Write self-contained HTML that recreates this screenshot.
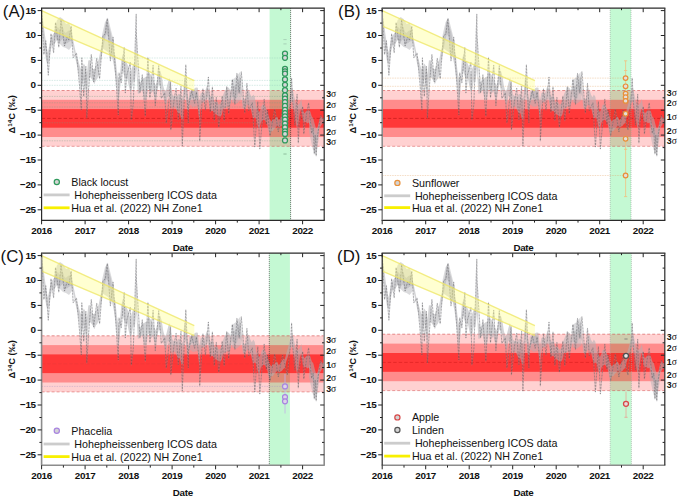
<!DOCTYPE html>
<html><head><meta charset="utf-8"><style>
html,body{margin:0;padding:0;background:#fff;width:685px;height:498px;overflow:hidden}
svg{display:block}
text{font-family:"Liberation Sans", sans-serif;fill:#111}
.t{font-size:9.9px;font-weight:bold;letter-spacing:-0.3px}
.yl{font-size:8.6px;font-weight:bold}
.pl{font-size:16.8px}
.sg{font-size:8.8px;font-weight:bold}
.lg{font-size:10.7px}
</style></head><body>
<svg width="685" height="498" viewBox="0 0 685 498">
<rect width="685" height="498" fill="#fff"/>
<clipPath id="cA"><rect x="41.6" y="8.2" width="282.59999999999997" height="212.10000000000002"/></clipPath>
<g clip-path="url(#cA)">
<rect x="269.6" y="8.2" width="21.0" height="212.10000000000002" fill="#c4f9d3"/>
<rect x="41.6" y="90.5" width="282.59999999999997" height="55.8" fill="#ff0000" fill-opacity="0.18"/>
<rect x="41.6" y="99.8" width="282.59999999999997" height="37.2" fill="#ff0000" fill-opacity="0.33"/>
<rect x="41.6" y="109.1" width="282.59999999999997" height="18.6" fill="#ff0000" fill-opacity="0.6"/>
<line x1="41.6" x2="324.2" y1="90.5" y2="90.5" stroke="#d04040" stroke-width="0.8" stroke-dasharray="3,2" stroke-opacity="0.7"/>
<line x1="41.6" x2="324.2" y1="146.3" y2="146.3" stroke="#d04040" stroke-width="0.8" stroke-dasharray="3,2" stroke-opacity="0.6"/>
<line x1="41.6" x2="324.2" y1="118.4" y2="118.4" stroke="#c01818" stroke-width="0.8" stroke-dasharray="3.5,2" stroke-opacity="0.85"/>
<line x1="41.6" x2="285" y1="58.0" y2="58.0" stroke="#90c8b8" stroke-width="0.8" stroke-dasharray="1.5,1" stroke-opacity="0.45"/>
<line x1="41.6" x2="285" y1="80.4" y2="80.4" stroke="#90c8b8" stroke-width="0.8" stroke-dasharray="1.5,1" stroke-opacity="0.45"/>
<line x1="41.6" x2="285" y1="85.3" y2="85.3" stroke="#90c8b8" stroke-width="0.8" stroke-dasharray="1.5,1" stroke-opacity="0.45"/>
<line x1="41.6" x2="285" y1="96.4" y2="96.4" stroke="#70a080" stroke-width="0.8" stroke-dasharray="1.5,1" stroke-opacity="0.45"/>
<line x1="41.6" x2="285" y1="102.8" y2="102.8" stroke="#70a080" stroke-width="0.8" stroke-dasharray="1.5,1" stroke-opacity="0.45"/>
<line x1="41.6" x2="285" y1="107" y2="107" stroke="#70a080" stroke-width="0.8" stroke-dasharray="1.5,1" stroke-opacity="0.45"/>
<line x1="41.6" x2="285" y1="122.8" y2="122.8" stroke="#70a080" stroke-width="0.8" stroke-dasharray="1.5,1" stroke-opacity="0.45"/>
<line x1="41.6" x2="285" y1="140.8" y2="140.8" stroke="#70a080" stroke-width="0.8" stroke-dasharray="1.5,1" stroke-opacity="0.45"/>
<polygon points="55.0,28.0 57.0,20.0 60.0,17.0 63.0,19.0 66.0,24.0 69.0,23.0 72.0,30.0 72.0,46.0 69.0,50.0 66.0,48.0 63.0,47.0 60.0,44.0 57.0,40.0 55.0,36.0" fill="#b0b0b4" fill-opacity="0.45" stroke="none"/>
<polygon points="102.0,35.0 105.0,22.0 108.0,18.0 111.0,30.0 114.0,42.0 114.0,58.0 111.0,56.0 108.0,52.0 105.0,50.0 102.0,48.0" fill="#b0b0b4" fill-opacity="0.45" stroke="none"/>
<polygon points="189.0,92.0 193.0,89.0 197.0,92.0 197.0,106.0 193.0,107.0 189.0,104.0" fill="#b0b0b4" fill-opacity="0.45" stroke="none"/>
<polygon points="232.0,80.0 236.0,77.0 240.0,72.0 241.0,100.0 236.0,104.0 232.0,102.0" fill="#b0b0b4" fill-opacity="0.45" stroke="none"/>
<polygon points="309.0,118.0 313.0,128.0 316.0,135.0 319.0,125.0 319.0,138.0 316.0,155.0 313.0,150.0 309.0,132.0" fill="#b0b0b4" fill-opacity="0.45" stroke="none"/>
<polygon points="41.8,14.5 43.3,22.3 44.8,34.1 46.3,44.5 47.8,52.4 49.3,45.7 50.8,38.3 52.3,35.3 53.8,33.2 55.3,30.7 56.8,27.2 58.3,27.5 59.8,30.2 61.3,26.9 62.8,27.1 64.3,31.8 65.8,33.0 67.3,31.4 68.8,30.5 70.3,30.8 71.8,33.4 73.3,40.6 74.8,47.7 76.3,55.3 77.8,58.8 79.3,64.3 80.8,68.9 82.3,67.4 83.8,63.4 85.3,66.3 86.8,74.6 88.3,60.4 89.8,59.9 91.3,65.7 92.8,69.1 94.3,69.1 95.8,66.2 97.3,63.6 98.8,58.9 100.3,51.2 101.8,45.1 103.3,37.8 104.8,28.2 106.3,19.7 107.8,23.2 109.3,28.1 110.8,32.9 112.3,43.2 113.8,51.5 115.3,55.6 116.8,70.2 118.3,79.2 119.8,76.7 121.3,60.2 122.8,54.0 124.3,61.7 125.8,61.1 127.3,64.1 128.8,67.8 130.3,73.9 131.8,68.0 133.3,64.6 134.8,62.3 136.3,27.4 137.8,78.1 139.3,80.5 140.8,82.8 142.3,78.2 143.8,78.2 145.3,77.0 146.8,76.6 148.3,71.5 149.8,73.5 151.3,75.3 152.8,78.3 154.3,82.2 155.8,85.6 157.3,79.7 158.8,71.5 160.3,70.8 161.8,75.9 163.3,85.9 164.8,91.3 166.3,89.2 167.8,83.0 169.3,77.9 170.8,84.5 172.3,94.3 173.8,96.0 175.3,95.5 176.8,97.1 178.3,93.8 179.8,94.4 181.3,99.2 182.8,96.6 184.3,77.9 185.8,79.3 187.3,92.9 188.8,100.3 190.3,93.5 191.8,91.3 193.3,90.7 194.8,87.9 196.3,87.4 197.8,87.8 199.3,100.7 200.8,93.0 202.3,92.4 203.8,94.5 205.3,90.8 206.8,85.9 208.3,89.2 209.8,95.1 211.3,97.3 212.8,95.5 214.3,100.7 215.8,102.6 217.3,101.8 218.8,104.6 220.3,104.0 221.8,100.8 223.3,94.4 224.8,91.1 226.3,89.0 227.8,87.0 229.3,88.4 230.8,91.6 232.3,86.4 233.8,86.3 235.3,85.6 236.8,84.1 238.3,79.9 239.8,76.3 241.3,82.6 242.8,98.2 244.3,99.3 245.8,98.0 247.3,91.0 248.8,89.6 250.3,94.6 251.8,97.3 253.3,94.6 254.8,96.9 256.3,106.9 257.8,109.9 259.3,111.9 260.8,108.7 262.3,104.3 263.8,105.3 265.3,106.6 266.8,109.8 268.3,114.8 269.8,119.3 271.3,121.5 272.8,119.3 274.3,119.5 275.8,117.1 277.3,117.0 278.8,120.2 280.3,118.4 281.8,116.1 283.3,114.0 284.8,114.6 286.3,108.3 287.8,103.4 289.3,97.2 290.8,93.4 292.3,87.8 293.8,94.2 295.3,101.5 296.8,106.1 298.3,104.6 299.8,102.9 301.3,98.8 302.8,110.1 304.3,113.3 305.8,111.4 307.3,110.5 308.8,110.5 310.3,111.5 311.8,116.5 313.3,118.2 314.8,124.3 316.3,129.7 317.8,126.5 319.3,120.0 320.8,116.8 322.3,118.2 323.8,118.0 323.8,123.3 322.3,123.8 320.8,126.0 319.3,129.3 317.8,136.3 316.3,144.4 314.8,140.4 313.3,136.5 311.8,133.9 310.3,125.4 308.8,122.5 307.3,123.5 305.8,121.6 304.3,122.5 302.8,119.6 301.3,107.5 299.8,113.7 298.3,124.2 296.8,128.4 295.3,119.3 293.8,108.9 292.3,101.5 290.8,103.0 289.3,106.8 287.8,112.1 286.3,116.3 284.8,123.0 283.3,124.1 281.8,125.9 280.3,126.8 278.8,127.0 277.3,125.4 275.8,127.5 274.3,128.8 272.8,131.3 271.3,130.9 269.8,134.5 268.3,130.1 266.8,122.7 265.3,120.7 263.8,119.7 262.3,120.4 260.8,122.8 259.3,129.6 257.8,126.6 256.3,119.1 254.8,117.4 253.3,118.6 251.8,113.8 250.3,106.9 248.8,105.6 247.3,104.4 245.8,107.2 244.3,109.1 242.8,107.6 241.3,96.3 239.8,92.5 238.3,92.1 236.8,98.3 235.3,98.3 233.8,97.6 232.3,96.3 230.8,103.0 229.3,106.5 227.8,106.0 226.3,107.0 224.8,107.8 223.3,108.0 221.8,114.8 220.3,116.8 218.8,116.3 217.3,115.0 215.8,114.5 214.3,112.2 212.8,111.0 211.3,111.2 209.8,108.3 208.3,101.1 206.8,96.5 205.3,101.1 203.8,102.7 202.3,101.8 200.8,105.0 199.3,121.1 197.8,107.1 196.3,99.5 194.8,97.8 193.3,98.6 191.8,97.8 190.3,100.4 188.8,109.6 187.3,110.4 185.8,97.8 184.3,92.6 182.8,119.2 181.3,118.9 179.8,113.2 178.3,113.2 176.8,110.6 175.3,107.5 173.8,105.7 172.3,108.4 170.8,105.9 169.3,96.3 167.8,95.7 166.3,105.8 164.8,102.3 163.3,97.4 161.8,90.8 160.3,86.2 158.8,84.3 157.3,91.0 155.8,97.4 154.3,96.8 152.8,91.2 151.3,93.2 149.8,90.2 148.3,88.8 146.8,96.6 145.3,101.3 143.8,97.4 142.3,90.7 140.8,91.0 139.3,93.6 137.8,93.8 136.3,68.2 134.8,82.2 133.3,80.2 131.8,89.1 130.3,92.1 128.8,86.3 127.3,78.5 125.8,79.0 124.3,76.5 122.8,70.7 121.3,75.5 119.8,91.0 118.3,101.7 116.8,88.3 115.3,75.8 113.8,65.3 112.3,57.9 110.8,49.0 109.3,40.4 107.8,36.3 106.3,34.1 104.8,39.3 103.3,47.8 101.8,55.9 100.3,63.6 98.8,74.7 97.3,78.8 95.8,80.5 94.3,84.2 92.8,80.7 91.3,78.6 89.8,76.7 88.3,80.4 86.8,99.2 85.3,87.4 83.8,79.1 82.3,85.2 80.8,93.4 79.3,76.7 77.8,68.9 76.3,62.7 74.8,55.3 73.3,48.0 71.8,41.6 70.3,41.0 68.8,42.0 67.3,43.3 65.8,43.6 64.3,43.8 62.8,39.1 61.3,40.3 59.8,42.0 58.3,40.4 56.8,40.2 55.3,42.8 53.8,45.4 52.3,43.7 50.8,50.2 49.3,60.7 47.8,64.2 46.3,60.7 44.8,51.4 43.3,39.2 41.8,23.0" fill="#b0b0b4" fill-opacity="0.55" stroke="none"/>
<path d="M41.8,12.0 L43.9,54.5 L45.8,40.7 L48.3,75.2 L51.0,33.7 L53.6,52.8 L55.5,22.5 L58.8,47.2 L61.0,19.8 L64.5,46.0 L67.0,37.0 L68.9,40.0 L71.2,26.1 L73.2,57.7 L76.5,53.1 L79.4,84.2 L81.3,110.0 L81.8,57.8 L83.7,96.4 L85.9,66.5 L86.8,118.0 L88.5,90.0 L91.3,54.5 L93.7,81.8 L96.7,58.2 L99.6,78.8 L102.9,35.8 L105.3,34.0 L107.3,18.4 L110.4,60.9 L113.1,37.1 L116.1,81.3 L118.3,115.0 L119.0,72.8 L121.3,82.6 L124.2,47.5 L125.3,93.0 L126.8,75.2 L130.3,62.5 L131.3,120.0 L133.3,103.8 L136.2,14.0 L136.4,34.8 L140.0,92.9 L142.3,74.8 L145.3,116.1 L147.9,57.4 L149.9,97.7 L153.1,65.3 L155.3,105.6 L158.7,65.7 L161.3,98.4 L164.7,92.9 L166.3,123.0 L168.1,108.7 L170.6,81.6 L170.8,130.0 L174.0,100.2 L176.1,88.3 L178.3,119.6 L181.0,86.3 L182.3,146.0 L183.2,123.2 L185.8,64.7 L188.3,123.0 L188.6,105.2 L191.7,90.7 L194.6,103.3 L196.5,92.0 L199.7,117.9 L199.7,141.0 L202.9,88.7 L205.4,110.1 L208.4,77.0 L210.3,112.1 L212.4,86.9 L214.3,120.5 L216.3,97.4 L218.8,127.3 L222.2,96.1 L224.2,120.7 L226.7,86.5 L228.7,113.6 L232.3,79.4 L234.9,104.6 L236.9,73.4 L239.2,93.3 L241.3,71.7 L244.8,113.0 L246.9,83.4 L248.7,110.6 L252.3,102.8 L254.8,147.0 L255.3,139.3 L257.8,101.6 L259.8,149.0 L261.0,135.1 L264.2,99.1 L266.4,124.5 L267.4,110.0 L270.0,136.0 L274.7,109.0 L278.3,132.0 L282.5,110.0 L287.3,130.0 L290.5,100.0 L291.6,78.0 L292.6,100.0 L294.9,125.2 L297.1,94.2 L298.3,143.0 L299.3,122.9 L302.7,106.5 L303.8,134.0 L305.4,121.3 L308.6,102.8 L311.6,133.3 L313.2,128.0 L314.3,154.0 L315.2,135.0 L316.2,156.0 L317.2,138.0 L320.7,115.2 L323.9,122.0" fill="none" stroke="#a0a0a8" stroke-opacity="0.35" stroke-width="1.1" stroke-linejoin="round"/>
<path d="M41.8,12.0 L43.9,54.5 L45.8,40.7 L48.3,75.2 L51.0,33.7 L53.6,52.8 L55.5,22.5 L58.8,47.2 L61.0,19.8 L64.5,46.0 L67.0,37.0 L68.9,40.0 L71.2,26.1 L73.2,57.7 L76.5,53.1 L79.4,84.2 L81.3,110.0 L81.8,57.8 L83.7,96.4 L85.9,66.5 L86.8,118.0 L88.5,90.0 L91.3,54.5 L93.7,81.8 L96.7,58.2 L99.6,78.8 L102.9,35.8 L105.3,34.0 L107.3,18.4 L110.4,60.9 L113.1,37.1 L116.1,81.3 L118.3,115.0 L119.0,72.8 L121.3,82.6 L124.2,47.5 L125.3,93.0 L126.8,75.2 L130.3,62.5 L131.3,120.0 L133.3,103.8 L136.2,14.0 L136.4,34.8 L140.0,92.9 L142.3,74.8 L145.3,116.1 L147.9,57.4 L149.9,97.7 L153.1,65.3 L155.3,105.6 L158.7,65.7 L161.3,98.4 L164.7,92.9 L166.3,123.0 L168.1,108.7 L170.6,81.6 L170.8,130.0 L174.0,100.2 L176.1,88.3 L178.3,119.6 L181.0,86.3 L182.3,146.0 L183.2,123.2 L185.8,64.7 L188.3,123.0 L188.6,105.2 L191.7,90.7 L194.6,103.3 L196.5,92.0 L199.7,117.9 L199.7,141.0 L202.9,88.7 L205.4,110.1 L208.4,77.0 L210.3,112.1 L212.4,86.9 L214.3,120.5 L216.3,97.4 L218.8,127.3 L222.2,96.1 L224.2,120.7 L226.7,86.5 L228.7,113.6 L232.3,79.4 L234.9,104.6 L236.9,73.4 L239.2,93.3 L241.3,71.7 L244.8,113.0 L246.9,83.4 L248.7,110.6 L252.3,102.8 L254.8,147.0 L255.3,139.3 L257.8,101.6 L259.8,149.0 L261.0,135.1 L264.2,99.1 L266.4,124.5 L267.4,110.0 L270.0,136.0 L274.7,109.0 L278.3,132.0 L282.5,110.0 L287.3,130.0 L290.5,100.0 L291.6,78.0 L292.6,100.0 L294.9,125.2 L297.1,94.2 L298.3,143.0 L299.3,122.9 L302.7,106.5 L303.8,134.0 L305.4,121.3 L308.6,102.8 L311.6,133.3 L313.2,128.0 L314.3,154.0 L315.2,135.0 L316.2,156.0 L317.2,138.0 L320.7,115.2 L323.9,122.0" fill="none" stroke="#303030" stroke-opacity="0.55" stroke-width="0.5" stroke-dasharray="1.8,1.3"/>
<polygon points="41.6,10.6 194.3,80.7 194.3,90.6 41.6,26.1" fill="#ffff80" fill-opacity="0.36"/>
<line x1="41.6" y1="10.6" x2="194.3" y2="80.7" stroke="#eee660" stroke-width="1.4" stroke-opacity="0.75"/>
<line x1="41.6" y1="26.1" x2="194.3" y2="90.6" stroke="#eee660" stroke-width="1.4" stroke-opacity="0.75"/>
<line x1="290.6" x2="290.6" y1="8.2" y2="220.3" stroke="#222" stroke-width="0.7" stroke-dasharray="0.9,1.1"/>
<line x1="283.4" x2="286.6" y1="39.6" y2="39.6" stroke="#a0c8b0" stroke-width="0.8"/>
<line x1="283.4" x2="286.6" y1="43.9" y2="43.9" stroke="#a0c8b0" stroke-width="0.8"/>
<line x1="283.4" x2="286.6" y1="154" y2="154" stroke="#80b090" stroke-width="0.8"/>
<circle cx="285.0" cy="53.5" r="2.5" fill="#d9d6da" stroke="#2f9a5c" stroke-width="1.25"/>
<circle cx="285.0" cy="57.8" r="2.5" fill="#d9d6da" stroke="#2f9a5c" stroke-width="1.25"/>
<circle cx="285.0" cy="68.9" r="2.5" fill="#d9d6da" stroke="#2f9a5c" stroke-width="1.25"/>
<circle cx="285.0" cy="71.3" r="2.5" fill="#d9d6da" stroke="#2f9a5c" stroke-width="1.25"/>
<circle cx="285.0" cy="73.7" r="2.5" fill="#d9d6da" stroke="#2f9a5c" stroke-width="1.25"/>
<circle cx="285.0" cy="79.4" r="2.5" fill="#d9d6da" stroke="#2f9a5c" stroke-width="1.25"/>
<circle cx="285.0" cy="84.8" r="2.5" fill="#d9d6da" stroke="#2f9a5c" stroke-width="1.25"/>
<circle cx="285.0" cy="90.2" r="2.5" fill="#d9d6da" stroke="#2f9a5c" stroke-width="1.25"/>
<circle cx="285.0" cy="95.4" r="2.5" fill="#d9d6da" stroke="#2f9a5c" stroke-width="1.25"/>
<circle cx="285.0" cy="98.7" r="2.5" fill="#d9d6da" stroke="#2f9a5c" stroke-width="1.25"/>
<circle cx="285.0" cy="102" r="2.5" fill="#d9d6da" stroke="#2f9a5c" stroke-width="1.25"/>
<circle cx="285.0" cy="105.9" r="2.5" fill="#d9d6da" stroke="#2f9a5c" stroke-width="1.25"/>
<circle cx="285.0" cy="109.8" r="2.5" fill="#d9d6da" stroke="#2f9a5c" stroke-width="1.25"/>
<circle cx="285.0" cy="113" r="2.5" fill="#d9d6da" stroke="#2f9a5c" stroke-width="1.25"/>
<circle cx="285.0" cy="116.3" r="2.5" fill="#d9d6da" stroke="#2f9a5c" stroke-width="1.25"/>
<circle cx="285.0" cy="119.5" r="2.5" fill="#d9d6da" stroke="#2f9a5c" stroke-width="1.25"/>
<circle cx="285.0" cy="123.5" r="2.5" fill="#d9d6da" stroke="#2f9a5c" stroke-width="1.25"/>
<circle cx="285.0" cy="127.4" r="2.5" fill="#d9d6da" stroke="#2f9a5c" stroke-width="1.25"/>
<circle cx="285.0" cy="131.3" r="2.5" fill="#d9d6da" stroke="#2f9a5c" stroke-width="1.25"/>
<circle cx="285.0" cy="133.9" r="2.5" fill="#d9d6da" stroke="#2f9a5c" stroke-width="1.25"/>
<circle cx="285.0" cy="140.4" r="2.5" fill="#d9d6da" stroke="#2f9a5c" stroke-width="1.25"/>
</g>
<line x1="41.0" y1="8.2" x2="324.8" y2="8.2" stroke="#2a2a2a" stroke-width="1.2"/>
<line x1="41.0" y1="220.3" x2="324.8" y2="220.3" stroke="#2a2a2a" stroke-width="1.2"/>
<line x1="41.6" y1="8.2" x2="41.6" y2="220.3" stroke="#2a2a2a" stroke-width="1.2"/>
<line x1="324.2" y1="8.2" x2="324.2" y2="220.3" stroke="#2a2a2a" stroke-width="1.2"/>
<path d="M37.6,10.6H41.6M320.2,10.6H324.2M37.6,35.5H41.6M320.2,35.5H324.2M37.6,60.4H41.6M320.2,60.4H324.2M37.6,85.3H41.6M320.2,85.3H324.2M37.6,110.2H41.6M320.2,110.2H324.2M37.6,135.1H41.6M320.2,135.1H324.2M37.6,160.0H41.6M320.2,160.0H324.2M37.6,184.9H41.6M320.2,184.9H324.2M37.6,209.8H41.6M320.2,209.8H324.2M39.4,23.1H41.6M322.0,23.1H324.2M39.4,48.0H41.6M322.0,48.0H324.2M39.4,72.9H41.6M322.0,72.9H324.2M39.4,97.8H41.6M322.0,97.8H324.2M39.4,122.7H41.6M322.0,122.7H324.2M39.4,147.6H41.6M322.0,147.6H324.2M39.4,172.5H41.6M322.0,172.5H324.2M39.4,197.4H41.6M322.0,197.4H324.2M41.6,220.3v4M41.6,8.2v4M85.1,220.3v4M85.1,8.2v4M128.6,220.3v4M128.6,8.2v4M172.1,220.3v4M172.1,8.2v4M215.6,220.3v4M215.6,8.2v4M259.1,220.3v4M259.1,8.2v4M302.6,220.3v4M302.6,8.2v4M63.4,220.3v2.3M63.4,8.2v2M106.8,220.3v2.3M106.8,8.2v2M150.3,220.3v2.3M150.3,8.2v2M193.8,220.3v2.3M193.8,8.2v2M237.3,220.3v2.3M237.3,8.2v2M280.9,220.3v2.3M280.9,8.2v2" stroke="#222" stroke-width="1" fill="none"/>
<text x="35.8" y="13.5" text-anchor="end" class="t">15</text>
<text x="35.8" y="38.4" text-anchor="end" class="t">10</text>
<text x="35.8" y="63.3" text-anchor="end" class="t">5</text>
<text x="35.8" y="88.2" text-anchor="end" class="t">0</text>
<text x="35.8" y="113.1" text-anchor="end" class="t">−5</text>
<text x="35.8" y="138.0" text-anchor="end" class="t">−10</text>
<text x="35.8" y="162.9" text-anchor="end" class="t">−15</text>
<text x="35.8" y="187.8" text-anchor="end" class="t">−20</text>
<text x="35.8" y="212.7" text-anchor="end" class="t">−25</text>
<text x="41.6" y="234.3" text-anchor="middle" class="t">2016</text>
<text x="85.1" y="234.3" text-anchor="middle" class="t">2017</text>
<text x="128.6" y="234.3" text-anchor="middle" class="t">2018</text>
<text x="172.1" y="234.3" text-anchor="middle" class="t">2019</text>
<text x="215.6" y="234.3" text-anchor="middle" class="t">2020</text>
<text x="259.1" y="234.3" text-anchor="middle" class="t">2021</text>
<text x="302.6" y="234.3" text-anchor="middle" class="t">2022</text>
<text x="182.8" y="250.8" text-anchor="middle" class="t" style="font-size:9.8px">Date</text>
<text transform="translate(15,114.3) rotate(-90)" text-anchor="middle" class="yl" textLength="38.5" lengthAdjust="spacingAndGlyphs">Δ<tspan dy="-3" font-size="5.8">14</tspan><tspan dy="3">C (‰)</tspan></text>
<text x="2.8" y="16.9" class="pl">(A)</text>
<text x="326.2" y="97.2" class="sg">3<tspan font-weight="normal" font-family="Liberation Serif" font-size="9.6px">σ</tspan></text>
<text x="326.2" y="108.0" class="sg">2<tspan font-weight="normal" font-family="Liberation Serif" font-size="9.6px">σ</tspan></text>
<text x="326.2" y="121.4" class="sg">1<tspan font-weight="normal" font-family="Liberation Serif" font-size="9.6px">σ</tspan></text>
<text x="326.2" y="135.0" class="sg">2<tspan font-weight="normal" font-family="Liberation Serif" font-size="9.6px">σ</tspan></text>
<text x="326.2" y="145.2" class="sg">3<tspan font-weight="normal" font-family="Liberation Serif" font-size="9.6px">σ</tspan></text>
<circle cx="56.8" cy="182" r="2.6" fill="#d4d4d4" stroke="#2f9a5c" stroke-width="1.2"/>
<text x="71.3" y="185.9" class="lg">Black locust</text>
<line x1="43.6" x2="69.6" y1="194.9" y2="194.9" stroke="#cccccc" stroke-width="2.8"/>
<text x="74.3" y="198.8" class="lg">Hohepheissenberg ICOS data</text>
<line x1="43.6" x2="69.6" y1="207.8" y2="207.8" stroke="#f8f000" stroke-width="2.8"/>
<text x="71.3" y="211.7" class="lg">Hua et al. (2022) NH Zone1</text>
<clipPath id="cB"><rect x="382.20000000000005" y="8.2" width="282.59999999999997" height="212.10000000000002"/></clipPath>
<g clip-path="url(#cB)">
<rect x="610.2" y="8.2" width="20.799999999999955" height="212.10000000000002" fill="#c4f9d3"/>
<rect x="382.20000000000005" y="90.5" width="282.59999999999997" height="55.8" fill="#ff0000" fill-opacity="0.18"/>
<rect x="382.20000000000005" y="99.8" width="282.59999999999997" height="37.2" fill="#ff0000" fill-opacity="0.33"/>
<rect x="382.20000000000005" y="109.1" width="282.59999999999997" height="18.6" fill="#ff0000" fill-opacity="0.6"/>
<line x1="382.20000000000005" x2="664.8" y1="90.5" y2="90.5" stroke="#d04040" stroke-width="0.8" stroke-dasharray="3,2" stroke-opacity="0.7"/>
<line x1="382.20000000000005" x2="664.8" y1="146.3" y2="146.3" stroke="#d04040" stroke-width="0.8" stroke-dasharray="3,2" stroke-opacity="0.6"/>
<line x1="382.20000000000005" x2="664.8" y1="118.4" y2="118.4" stroke="#c01818" stroke-width="0.8" stroke-dasharray="3.5,2" stroke-opacity="0.85"/>
<line x1="382.20000000000005" x2="625.6" y1="78.1" y2="78.1" stroke="#e0a060" stroke-width="0.8" stroke-dasharray="1.5,1" stroke-opacity="0.45"/>
<line x1="382.20000000000005" x2="625.6" y1="86.3" y2="86.3" stroke="#e0a060" stroke-width="0.8" stroke-dasharray="1.5,1" stroke-opacity="0.45"/>
<line x1="382.20000000000005" x2="625.6" y1="175.5" y2="175.5" stroke="#e0a060" stroke-width="0.8" stroke-dasharray="1.5,1" stroke-opacity="0.45"/>
<polygon points="395.6,28.0 397.6,20.0 400.6,17.0 403.6,19.0 406.6,24.0 409.6,23.0 412.6,30.0 412.6,46.0 409.6,50.0 406.6,48.0 403.6,47.0 400.6,44.0 397.6,40.0 395.6,36.0" fill="#b0b0b4" fill-opacity="0.45" stroke="none"/>
<polygon points="442.6,35.0 445.6,22.0 448.6,18.0 451.6,30.0 454.6,42.0 454.6,58.0 451.6,56.0 448.6,52.0 445.6,50.0 442.6,48.0" fill="#b0b0b4" fill-opacity="0.45" stroke="none"/>
<polygon points="529.6,92.0 533.6,89.0 537.6,92.0 537.6,106.0 533.6,107.0 529.6,104.0" fill="#b0b0b4" fill-opacity="0.45" stroke="none"/>
<polygon points="572.6,80.0 576.6,77.0 580.6,72.0 581.6,100.0 576.6,104.0 572.6,102.0" fill="#b0b0b4" fill-opacity="0.45" stroke="none"/>
<polygon points="649.6,118.0 653.6,128.0 656.6,135.0 659.6,125.0 659.6,138.0 656.6,155.0 653.6,150.0 649.6,132.0" fill="#b0b0b4" fill-opacity="0.45" stroke="none"/>
<polygon points="382.4,14.5 383.9,22.3 385.4,34.1 386.9,44.5 388.4,52.4 389.9,45.7 391.4,38.3 392.9,35.3 394.4,33.2 395.9,30.7 397.4,27.2 398.9,27.5 400.4,30.2 401.9,26.9 403.4,27.1 404.9,31.8 406.4,33.0 407.9,31.4 409.4,30.5 410.9,30.8 412.4,33.4 413.9,40.6 415.4,47.7 416.9,55.3 418.4,58.8 419.9,64.3 421.4,68.9 422.9,67.4 424.4,63.4 425.9,66.3 427.4,74.6 428.9,60.4 430.4,59.9 431.9,65.7 433.4,69.1 434.9,69.1 436.4,66.2 437.9,63.6 439.4,58.9 440.9,51.2 442.4,45.1 443.9,37.8 445.4,28.2 446.9,19.7 448.4,23.2 449.9,28.1 451.4,32.9 452.9,43.2 454.4,51.5 455.9,55.6 457.4,70.2 458.9,79.2 460.4,76.7 461.9,60.2 463.4,54.0 464.9,61.7 466.4,61.1 467.9,64.1 469.4,67.8 470.9,73.9 472.4,68.0 473.9,64.6 475.4,62.3 476.9,27.4 478.4,78.1 479.9,80.5 481.4,82.8 482.9,78.2 484.4,78.2 485.9,77.0 487.4,76.6 488.9,71.5 490.4,73.5 491.9,75.3 493.4,78.3 494.9,82.2 496.4,85.6 497.9,79.7 499.4,71.5 500.9,70.8 502.4,75.9 503.9,85.9 505.4,91.3 506.9,89.2 508.4,83.0 509.9,77.9 511.4,84.5 512.9,94.3 514.4,96.0 515.9,95.5 517.4,97.1 518.9,93.8 520.4,94.4 521.9,99.2 523.4,96.6 524.9,77.9 526.4,79.3 527.9,92.9 529.4,100.3 530.9,93.5 532.4,91.3 533.9,90.7 535.4,87.9 536.9,87.4 538.4,87.8 539.9,100.7 541.4,93.0 542.9,92.4 544.4,94.5 545.9,90.8 547.4,85.9 548.9,89.2 550.4,95.1 551.9,97.3 553.4,95.5 554.9,100.7 556.4,102.6 557.9,101.8 559.4,104.6 560.9,104.0 562.4,100.8 563.9,94.4 565.4,91.1 566.9,89.0 568.4,87.0 569.9,88.4 571.4,91.6 572.9,86.4 574.4,86.3 575.9,85.6 577.4,84.1 578.9,79.9 580.4,76.3 581.9,82.6 583.4,98.2 584.9,99.3 586.4,98.0 587.9,91.0 589.4,89.6 590.9,94.6 592.4,97.3 593.9,94.6 595.4,96.9 596.9,106.9 598.4,109.9 599.9,111.9 601.4,108.7 602.9,104.3 604.4,105.3 605.9,106.6 607.4,109.8 608.9,114.8 610.4,119.3 611.9,121.5 613.4,119.3 614.9,119.5 616.4,117.1 617.9,117.0 619.4,120.2 620.9,118.4 622.4,116.1 623.9,114.0 625.4,114.6 626.9,108.3 628.4,103.4 629.9,97.2 631.4,93.4 632.9,87.8 634.4,94.2 635.9,101.5 637.4,106.1 638.9,104.6 640.4,102.9 641.9,98.8 643.4,110.1 644.9,113.3 646.4,111.4 647.9,110.5 649.4,110.5 650.9,111.5 652.4,116.5 653.9,118.2 655.4,124.3 656.9,129.7 658.4,126.5 659.9,120.0 661.4,116.8 662.9,118.2 664.4,118.0 664.4,123.3 662.9,123.8 661.4,126.0 659.9,129.3 658.4,136.3 656.9,144.4 655.4,140.4 653.9,136.5 652.4,133.9 650.9,125.4 649.4,122.5 647.9,123.5 646.4,121.6 644.9,122.5 643.4,119.6 641.9,107.5 640.4,113.7 638.9,124.2 637.4,128.4 635.9,119.3 634.4,108.9 632.9,101.5 631.4,103.0 629.9,106.8 628.4,112.1 626.9,116.3 625.4,123.0 623.9,124.1 622.4,125.9 620.9,126.8 619.4,127.0 617.9,125.4 616.4,127.5 614.9,128.8 613.4,131.3 611.9,130.9 610.4,134.5 608.9,130.1 607.4,122.7 605.9,120.7 604.4,119.7 602.9,120.4 601.4,122.8 599.9,129.6 598.4,126.6 596.9,119.1 595.4,117.4 593.9,118.6 592.4,113.8 590.9,106.9 589.4,105.6 587.9,104.4 586.4,107.2 584.9,109.1 583.4,107.6 581.9,96.3 580.4,92.5 578.9,92.1 577.4,98.3 575.9,98.3 574.4,97.6 572.9,96.3 571.4,103.0 569.9,106.5 568.4,106.0 566.9,107.0 565.4,107.8 563.9,108.0 562.4,114.8 560.9,116.8 559.4,116.3 557.9,115.0 556.4,114.5 554.9,112.2 553.4,111.0 551.9,111.2 550.4,108.3 548.9,101.1 547.4,96.5 545.9,101.1 544.4,102.7 542.9,101.8 541.4,105.0 539.9,121.1 538.4,107.1 536.9,99.5 535.4,97.8 533.9,98.6 532.4,97.8 530.9,100.4 529.4,109.6 527.9,110.4 526.4,97.8 524.9,92.6 523.4,119.2 521.9,118.9 520.4,113.2 518.9,113.2 517.4,110.6 515.9,107.5 514.4,105.7 512.9,108.4 511.4,105.9 509.9,96.3 508.4,95.7 506.9,105.8 505.4,102.3 503.9,97.4 502.4,90.8 500.9,86.2 499.4,84.3 497.9,91.0 496.4,97.4 494.9,96.8 493.4,91.2 491.9,93.2 490.4,90.2 488.9,88.8 487.4,96.6 485.9,101.3 484.4,97.4 482.9,90.7 481.4,91.0 479.9,93.6 478.4,93.8 476.9,68.2 475.4,82.2 473.9,80.2 472.4,89.1 470.9,92.1 469.4,86.3 467.9,78.5 466.4,79.0 464.9,76.5 463.4,70.7 461.9,75.5 460.4,91.0 458.9,101.7 457.4,88.3 455.9,75.8 454.4,65.3 452.9,57.9 451.4,49.0 449.9,40.4 448.4,36.3 446.9,34.1 445.4,39.3 443.9,47.8 442.4,55.9 440.9,63.6 439.4,74.7 437.9,78.8 436.4,80.5 434.9,84.2 433.4,80.7 431.9,78.6 430.4,76.7 428.9,80.4 427.4,99.2 425.9,87.4 424.4,79.1 422.9,85.2 421.4,93.4 419.9,76.7 418.4,68.9 416.9,62.7 415.4,55.3 413.9,48.0 412.4,41.6 410.9,41.0 409.4,42.0 407.9,43.3 406.4,43.6 404.9,43.8 403.4,39.1 401.9,40.3 400.4,42.0 398.9,40.4 397.4,40.2 395.9,42.8 394.4,45.4 392.9,43.7 391.4,50.2 389.9,60.7 388.4,64.2 386.9,60.7 385.4,51.4 383.9,39.2 382.4,23.0" fill="#b0b0b4" fill-opacity="0.55" stroke="none"/>
<path d="M382.4,12.0 L384.5,54.5 L386.4,40.7 L388.9,75.2 L391.6,33.7 L394.2,52.8 L396.1,22.5 L399.4,47.2 L401.6,19.8 L405.1,46.0 L407.6,37.0 L409.5,40.0 L411.8,26.1 L413.8,57.7 L417.1,53.1 L420.0,84.2 L421.9,110.0 L422.4,57.8 L424.3,96.4 L426.5,66.5 L427.4,118.0 L429.1,90.0 L431.9,54.5 L434.3,81.8 L437.3,58.2 L440.2,78.8 L443.5,35.8 L445.9,34.0 L447.9,18.4 L451.0,60.9 L453.7,37.1 L456.7,81.3 L458.9,115.0 L459.6,72.8 L461.9,82.6 L464.8,47.5 L465.9,93.0 L467.4,75.2 L470.9,62.5 L471.9,120.0 L473.9,103.8 L476.8,14.0 L477.0,34.8 L480.6,92.9 L482.9,74.8 L485.9,116.1 L488.5,57.4 L490.5,97.7 L493.7,65.3 L495.9,105.6 L499.3,65.7 L501.9,98.4 L505.3,92.9 L506.9,123.0 L508.7,108.7 L511.2,81.6 L511.4,130.0 L514.6,100.2 L516.7,88.3 L518.9,119.6 L521.6,86.3 L522.9,146.0 L523.8,123.2 L526.4,64.7 L528.9,123.0 L529.2,105.2 L532.3,90.7 L535.2,103.3 L537.1,92.0 L540.3,117.9 L540.3,141.0 L543.5,88.7 L546.0,110.1 L549.0,77.0 L550.9,112.1 L553.0,86.9 L554.9,120.5 L556.9,97.4 L559.4,127.3 L562.8,96.1 L564.8,120.7 L567.3,86.5 L569.3,113.6 L572.9,79.4 L575.5,104.6 L577.5,73.4 L579.8,93.3 L581.9,71.7 L585.4,113.0 L587.5,83.4 L589.3,110.6 L592.9,102.8 L595.4,147.0 L595.9,139.3 L598.4,101.6 L600.4,149.0 L601.6,135.1 L604.8,99.1 L607.0,124.5 L608.0,110.0 L610.6,136.0 L615.3,109.0 L618.9,132.0 L623.1,110.0 L627.9,130.0 L631.1,100.0 L632.2,78.0 L633.2,100.0 L635.5,125.2 L637.7,94.2 L638.9,143.0 L639.9,122.9 L643.3,106.5 L644.4,134.0 L646.0,121.3 L649.2,102.8 L652.2,133.3 L653.8,128.0 L654.9,154.0 L655.8,135.0 L656.8,156.0 L657.8,138.0 L661.3,115.2 L664.5,122.0" fill="none" stroke="#a0a0a8" stroke-opacity="0.35" stroke-width="1.1" stroke-linejoin="round"/>
<path d="M382.4,12.0 L384.5,54.5 L386.4,40.7 L388.9,75.2 L391.6,33.7 L394.2,52.8 L396.1,22.5 L399.4,47.2 L401.6,19.8 L405.1,46.0 L407.6,37.0 L409.5,40.0 L411.8,26.1 L413.8,57.7 L417.1,53.1 L420.0,84.2 L421.9,110.0 L422.4,57.8 L424.3,96.4 L426.5,66.5 L427.4,118.0 L429.1,90.0 L431.9,54.5 L434.3,81.8 L437.3,58.2 L440.2,78.8 L443.5,35.8 L445.9,34.0 L447.9,18.4 L451.0,60.9 L453.7,37.1 L456.7,81.3 L458.9,115.0 L459.6,72.8 L461.9,82.6 L464.8,47.5 L465.9,93.0 L467.4,75.2 L470.9,62.5 L471.9,120.0 L473.9,103.8 L476.8,14.0 L477.0,34.8 L480.6,92.9 L482.9,74.8 L485.9,116.1 L488.5,57.4 L490.5,97.7 L493.7,65.3 L495.9,105.6 L499.3,65.7 L501.9,98.4 L505.3,92.9 L506.9,123.0 L508.7,108.7 L511.2,81.6 L511.4,130.0 L514.6,100.2 L516.7,88.3 L518.9,119.6 L521.6,86.3 L522.9,146.0 L523.8,123.2 L526.4,64.7 L528.9,123.0 L529.2,105.2 L532.3,90.7 L535.2,103.3 L537.1,92.0 L540.3,117.9 L540.3,141.0 L543.5,88.7 L546.0,110.1 L549.0,77.0 L550.9,112.1 L553.0,86.9 L554.9,120.5 L556.9,97.4 L559.4,127.3 L562.8,96.1 L564.8,120.7 L567.3,86.5 L569.3,113.6 L572.9,79.4 L575.5,104.6 L577.5,73.4 L579.8,93.3 L581.9,71.7 L585.4,113.0 L587.5,83.4 L589.3,110.6 L592.9,102.8 L595.4,147.0 L595.9,139.3 L598.4,101.6 L600.4,149.0 L601.6,135.1 L604.8,99.1 L607.0,124.5 L608.0,110.0 L610.6,136.0 L615.3,109.0 L618.9,132.0 L623.1,110.0 L627.9,130.0 L631.1,100.0 L632.2,78.0 L633.2,100.0 L635.5,125.2 L637.7,94.2 L638.9,143.0 L639.9,122.9 L643.3,106.5 L644.4,134.0 L646.0,121.3 L649.2,102.8 L652.2,133.3 L653.8,128.0 L654.9,154.0 L655.8,135.0 L656.8,156.0 L657.8,138.0 L661.3,115.2 L664.5,122.0" fill="none" stroke="#303030" stroke-opacity="0.55" stroke-width="0.5" stroke-dasharray="1.8,1.3"/>
<polygon points="382.20000000000005,10.6 534.9000000000001,80.7 534.9000000000001,90.6 382.20000000000005,26.1" fill="#ffff80" fill-opacity="0.36"/>
<line x1="382.20000000000005" y1="10.6" x2="534.9000000000001" y2="80.7" stroke="#eee660" stroke-width="1.4" stroke-opacity="0.75"/>
<line x1="382.20000000000005" y1="26.1" x2="534.9000000000001" y2="90.6" stroke="#eee660" stroke-width="1.4" stroke-opacity="0.75"/>
<line x1="610.2" x2="610.2" y1="8.2" y2="220.3" stroke="#90a898" stroke-width="0.7" stroke-dasharray="0.9,1.1"/>
<line x1="631.0" x2="631.0" y1="8.2" y2="220.3" stroke="#90a898" stroke-width="0.7" stroke-dasharray="0.9,1.1"/>
<line x1="625.6" x2="625.6" y1="60.8" y2="100.9" stroke="#f0c080" stroke-width="0.8"/>
<line x1="625.6" x2="625.6" y1="138.8" y2="196.6" stroke="#f0c080" stroke-width="0.8"/>
<line x1="624.0" x2="627.2" y1="60.8" y2="60.8" stroke="#f0c080" stroke-width="0.8"/>
<line x1="624.0" x2="627.2" y1="70.5" y2="70.5" stroke="#f0c080" stroke-width="0.8"/>
<line x1="624.0" x2="627.2" y1="149.3" y2="149.3" stroke="#f0c080" stroke-width="0.8"/>
<line x1="624.0" x2="627.2" y1="196.6" y2="196.6" stroke="#f0c080" stroke-width="0.8"/>
<circle cx="625.6" cy="78.1" r="2.3" fill="#e6ded8" stroke="#e8903a" stroke-width="1.2"/>
<circle cx="625.6" cy="86.3" r="2.3" fill="#e6ded8" stroke="#e8903a" stroke-width="1.2"/>
<circle cx="625.6" cy="93.6" r="2.3" fill="#e6ded8" stroke="#e8903a" stroke-width="1.2"/>
<circle cx="625.6" cy="97.1" r="2.3" fill="#e6ded8" stroke="#e8903a" stroke-width="1.2"/>
<circle cx="625.6" cy="100.9" r="2.3" fill="#e6ded8" stroke="#e8903a" stroke-width="1.2"/>
<circle cx="625.6" cy="113.7" r="2.3" fill="#e6ded8" stroke="#e8903a" stroke-width="1.2"/>
<circle cx="625.6" cy="138.8" r="2.3" fill="#e6ded8" stroke="#e8903a" stroke-width="1.2"/>
<circle cx="625.6" cy="175.5" r="2.3" fill="#e6ded8" stroke="#e8903a" stroke-width="1.2"/>
</g>
<line x1="381.6" y1="8.2" x2="665.4000000000001" y2="8.2" stroke="#2a2a2a" stroke-width="1.2"/>
<line x1="381.6" y1="220.3" x2="665.4000000000001" y2="220.3" stroke="#2a2a2a" stroke-width="1.2"/>
<line x1="382.20000000000005" y1="8.2" x2="382.20000000000005" y2="220.3" stroke="#8c8c8c" stroke-width="1.6"/>
<line x1="664.8" y1="8.2" x2="664.8" y2="220.3" stroke="#2a2a2a" stroke-width="1.2"/>
<path d="M378.20000000000005,10.6H382.20000000000005M660.8,10.6H664.8M378.20000000000005,35.5H382.20000000000005M660.8,35.5H664.8M378.20000000000005,60.4H382.20000000000005M660.8,60.4H664.8M378.20000000000005,85.3H382.20000000000005M660.8,85.3H664.8M378.20000000000005,110.2H382.20000000000005M660.8,110.2H664.8M378.20000000000005,135.1H382.20000000000005M660.8,135.1H664.8M378.20000000000005,160.0H382.20000000000005M660.8,160.0H664.8M378.20000000000005,184.9H382.20000000000005M660.8,184.9H664.8M378.20000000000005,209.8H382.20000000000005M660.8,209.8H664.8M380.00000000000006,23.1H382.20000000000005M662.5999999999999,23.1H664.8M380.00000000000006,48.0H382.20000000000005M662.5999999999999,48.0H664.8M380.00000000000006,72.9H382.20000000000005M662.5999999999999,72.9H664.8M380.00000000000006,97.8H382.20000000000005M662.5999999999999,97.8H664.8M380.00000000000006,122.7H382.20000000000005M662.5999999999999,122.7H664.8M380.00000000000006,147.6H382.20000000000005M662.5999999999999,147.6H664.8M380.00000000000006,172.5H382.20000000000005M662.5999999999999,172.5H664.8M380.00000000000006,197.4H382.20000000000005M662.5999999999999,197.4H664.8M382.2,220.3v4M382.2,8.2v4M425.7,220.3v4M425.7,8.2v4M469.2,220.3v4M469.2,8.2v4M512.7,220.3v4M512.7,8.2v4M556.2,220.3v4M556.2,8.2v4M599.7,220.3v4M599.7,8.2v4M643.2,220.3v4M643.2,8.2v4M404.0,220.3v2.3M404.0,8.2v2M447.5,220.3v2.3M447.5,8.2v2M491.0,220.3v2.3M491.0,8.2v2M534.5,220.3v2.3M534.5,8.2v2M578.0,220.3v2.3M578.0,8.2v2M621.5,220.3v2.3M621.5,8.2v2" stroke="#222" stroke-width="1" fill="none"/>
<text x="376.40000000000003" y="13.5" text-anchor="end" class="t">15</text>
<text x="376.40000000000003" y="38.4" text-anchor="end" class="t">10</text>
<text x="376.40000000000003" y="63.3" text-anchor="end" class="t">5</text>
<text x="376.40000000000003" y="88.2" text-anchor="end" class="t">0</text>
<text x="376.40000000000003" y="113.1" text-anchor="end" class="t">−5</text>
<text x="376.40000000000003" y="138.0" text-anchor="end" class="t">−10</text>
<text x="376.40000000000003" y="162.9" text-anchor="end" class="t">−15</text>
<text x="376.40000000000003" y="187.8" text-anchor="end" class="t">−20</text>
<text x="376.40000000000003" y="212.7" text-anchor="end" class="t">−25</text>
<text x="382.2" y="234.3" text-anchor="middle" class="t">2016</text>
<text x="425.7" y="234.3" text-anchor="middle" class="t">2017</text>
<text x="469.2" y="234.3" text-anchor="middle" class="t">2018</text>
<text x="512.7" y="234.3" text-anchor="middle" class="t">2019</text>
<text x="556.2" y="234.3" text-anchor="middle" class="t">2020</text>
<text x="599.7" y="234.3" text-anchor="middle" class="t">2021</text>
<text x="643.2" y="234.3" text-anchor="middle" class="t">2022</text>
<text x="523.4000000000001" y="250.8" text-anchor="middle" class="t" style="font-size:9.8px">Date</text>
<text transform="translate(355.6,114.3) rotate(-90)" text-anchor="middle" class="yl" textLength="38.5" lengthAdjust="spacingAndGlyphs">Δ<tspan dy="-3" font-size="5.8">14</tspan><tspan dy="3">C (‰)</tspan></text>
<text x="338.1" y="16.9" class="pl">(B)</text>
<text x="666.8" y="96.1" class="sg">3<tspan font-weight="normal" font-family="Liberation Serif" font-size="9.6px">σ</tspan></text>
<text x="666.8" y="106.1" class="sg">2<tspan font-weight="normal" font-family="Liberation Serif" font-size="9.6px">σ</tspan></text>
<text x="666.8" y="119.7" class="sg">1<tspan font-weight="normal" font-family="Liberation Serif" font-size="9.6px">σ</tspan></text>
<text x="666.8" y="134.0" class="sg">2<tspan font-weight="normal" font-family="Liberation Serif" font-size="9.6px">σ</tspan></text>
<text x="666.8" y="144.2" class="sg">3<tspan font-weight="normal" font-family="Liberation Serif" font-size="9.6px">σ</tspan></text>
<circle cx="397.40000000000003" cy="182.9" r="2.6" fill="#d4d4d4" stroke="#e8903a" stroke-width="1.2"/>
<text x="411.90000000000003" y="186.8" class="lg">Sunflower</text>
<line x1="384.20000000000005" x2="410.20000000000005" y1="195.8" y2="195.8" stroke="#cccccc" stroke-width="2.8"/>
<text x="414.90000000000003" y="199.7" class="lg">Hohepheissenberg ICOS data</text>
<line x1="384.20000000000005" x2="410.20000000000005" y1="207.6" y2="207.6" stroke="#f8f000" stroke-width="2.8"/>
<text x="411.90000000000003" y="211.5" class="lg">Hua et al. (2022) NH Zone1</text>
<clipPath id="cC"><rect x="41.6" y="253.2" width="282.59999999999997" height="212.10000000000002"/></clipPath>
<g clip-path="url(#cC)">
<rect x="269.3" y="253.2" width="20.599999999999966" height="212.10000000000002" fill="#c4f9d3"/>
<rect x="41.6" y="335.8" width="282.59999999999997" height="56.1" fill="#ff0000" fill-opacity="0.18"/>
<rect x="41.6" y="345.1" width="282.59999999999997" height="37.4" fill="#ff0000" fill-opacity="0.33"/>
<rect x="41.6" y="354.4" width="282.59999999999997" height="18.7" fill="#ff0000" fill-opacity="0.6"/>
<line x1="41.6" x2="324.2" y1="335.8" y2="335.8" stroke="#d04040" stroke-width="0.8" stroke-dasharray="3,2" stroke-opacity="0.7"/>
<line x1="41.6" x2="324.2" y1="391.9" y2="391.9" stroke="#d04040" stroke-width="0.8" stroke-dasharray="3,2" stroke-opacity="0.6"/>
<line x1="41.6" x2="324.2" y1="363.8" y2="363.8" stroke="#e03a3a" stroke-width="0.8" stroke-dasharray="3.5,2" stroke-opacity="0.5"/>
<line x1="41.6" x2="285.0" y1="386.4" y2="386.4" stroke="#a090c0" stroke-width="0.8" stroke-dasharray="1.5,1" stroke-opacity="0.45"/>
<polygon points="55.0,273.0 57.0,265.0 60.0,262.0 63.0,264.0 66.0,269.0 69.0,268.0 72.0,275.0 72.0,291.0 69.0,295.0 66.0,293.0 63.0,292.0 60.0,289.0 57.0,285.0 55.0,281.0" fill="#b0b0b4" fill-opacity="0.45" stroke="none"/>
<polygon points="102.0,280.0 105.0,267.0 108.0,263.0 111.0,275.0 114.0,287.0 114.0,303.0 111.0,301.0 108.0,297.0 105.0,295.0 102.0,293.0" fill="#b0b0b4" fill-opacity="0.45" stroke="none"/>
<polygon points="189.0,337.0 193.0,334.0 197.0,337.0 197.0,351.0 193.0,352.0 189.0,349.0" fill="#b0b0b4" fill-opacity="0.45" stroke="none"/>
<polygon points="232.0,325.0 236.0,322.0 240.0,317.0 241.0,345.0 236.0,349.0 232.0,347.0" fill="#b0b0b4" fill-opacity="0.45" stroke="none"/>
<polygon points="309.0,363.0 313.0,373.0 316.0,380.0 319.0,370.0 319.0,383.0 316.0,400.0 313.0,395.0 309.0,377.0" fill="#b0b0b4" fill-opacity="0.45" stroke="none"/>
<polygon points="41.8,259.5 43.3,267.3 44.8,279.1 46.3,289.5 47.8,297.4 49.3,290.7 50.8,283.3 52.3,280.3 53.8,278.2 55.3,275.7 56.8,272.2 58.3,272.5 59.8,275.2 61.3,271.9 62.8,272.1 64.3,276.8 65.8,278.0 67.3,276.4 68.8,275.5 70.3,275.8 71.8,278.4 73.3,285.6 74.8,292.7 76.3,300.3 77.8,303.8 79.3,309.3 80.8,313.9 82.3,312.4 83.8,308.4 85.3,311.3 86.8,319.6 88.3,305.4 89.8,304.9 91.3,310.7 92.8,314.1 94.3,314.1 95.8,311.2 97.3,308.6 98.8,303.9 100.3,296.2 101.8,290.1 103.3,282.8 104.8,273.2 106.3,264.7 107.8,268.2 109.3,273.1 110.8,277.9 112.3,288.2 113.8,296.5 115.3,300.6 116.8,315.2 118.3,324.2 119.8,321.7 121.3,305.2 122.8,299.0 124.3,306.7 125.8,306.1 127.3,309.1 128.8,312.8 130.3,318.9 131.8,313.0 133.3,309.6 134.8,307.3 136.3,272.4 137.8,323.1 139.3,325.5 140.8,327.8 142.3,323.2 143.8,323.2 145.3,322.0 146.8,321.6 148.3,316.5 149.8,318.5 151.3,320.3 152.8,323.3 154.3,327.2 155.8,330.6 157.3,324.7 158.8,316.5 160.3,315.8 161.8,320.9 163.3,330.9 164.8,336.3 166.3,334.2 167.8,328.0 169.3,322.9 170.8,329.5 172.3,339.3 173.8,341.0 175.3,340.5 176.8,342.1 178.3,338.8 179.8,339.4 181.3,344.2 182.8,341.6 184.3,322.9 185.8,324.3 187.3,337.9 188.8,345.3 190.3,338.5 191.8,336.3 193.3,335.7 194.8,332.9 196.3,332.4 197.8,332.8 199.3,345.7 200.8,338.0 202.3,337.4 203.8,339.5 205.3,335.8 206.8,330.9 208.3,334.2 209.8,340.1 211.3,342.3 212.8,340.5 214.3,345.7 215.8,347.6 217.3,346.8 218.8,349.6 220.3,349.0 221.8,345.8 223.3,339.4 224.8,336.1 226.3,334.0 227.8,332.0 229.3,333.4 230.8,336.6 232.3,331.4 233.8,331.3 235.3,330.6 236.8,329.1 238.3,324.9 239.8,321.3 241.3,327.6 242.8,343.2 244.3,344.3 245.8,343.0 247.3,336.0 248.8,334.6 250.3,339.6 251.8,342.3 253.3,339.6 254.8,341.9 256.3,351.9 257.8,354.9 259.3,356.9 260.8,353.7 262.3,349.3 263.8,350.3 265.3,351.6 266.8,354.8 268.3,359.8 269.8,364.3 271.3,366.5 272.8,364.3 274.3,364.5 275.8,362.1 277.3,362.0 278.8,365.2 280.3,363.4 281.8,361.1 283.3,359.0 284.8,359.6 286.3,353.3 287.8,348.4 289.3,342.2 290.8,338.4 292.3,332.8 293.8,339.2 295.3,346.5 296.8,351.1 298.3,349.6 299.8,347.9 301.3,343.8 302.8,355.1 304.3,358.3 305.8,356.4 307.3,355.5 308.8,355.5 310.3,356.5 311.8,361.5 313.3,363.2 314.8,369.3 316.3,374.7 317.8,371.5 319.3,365.0 320.8,361.8 322.3,363.2 323.8,363.0 323.8,368.3 322.3,368.8 320.8,371.0 319.3,374.3 317.8,381.3 316.3,389.4 314.8,385.4 313.3,381.5 311.8,378.9 310.3,370.4 308.8,367.5 307.3,368.5 305.8,366.6 304.3,367.5 302.8,364.6 301.3,352.5 299.8,358.7 298.3,369.2 296.8,373.4 295.3,364.3 293.8,353.9 292.3,346.5 290.8,348.0 289.3,351.8 287.8,357.1 286.3,361.3 284.8,368.0 283.3,369.1 281.8,370.9 280.3,371.8 278.8,372.0 277.3,370.4 275.8,372.5 274.3,373.8 272.8,376.3 271.3,375.9 269.8,379.5 268.3,375.1 266.8,367.7 265.3,365.7 263.8,364.7 262.3,365.4 260.8,367.8 259.3,374.6 257.8,371.6 256.3,364.1 254.8,362.4 253.3,363.6 251.8,358.8 250.3,351.9 248.8,350.6 247.3,349.4 245.8,352.2 244.3,354.1 242.8,352.6 241.3,341.3 239.8,337.5 238.3,337.1 236.8,343.3 235.3,343.3 233.8,342.6 232.3,341.3 230.8,348.0 229.3,351.5 227.8,351.0 226.3,352.0 224.8,352.8 223.3,353.0 221.8,359.8 220.3,361.8 218.8,361.3 217.3,360.0 215.8,359.5 214.3,357.2 212.8,356.0 211.3,356.2 209.8,353.3 208.3,346.1 206.8,341.5 205.3,346.1 203.8,347.7 202.3,346.8 200.8,350.0 199.3,366.1 197.8,352.1 196.3,344.5 194.8,342.8 193.3,343.6 191.8,342.8 190.3,345.4 188.8,354.6 187.3,355.4 185.8,342.8 184.3,337.6 182.8,364.2 181.3,363.9 179.8,358.2 178.3,358.2 176.8,355.6 175.3,352.5 173.8,350.7 172.3,353.4 170.8,350.9 169.3,341.3 167.8,340.7 166.3,350.8 164.8,347.3 163.3,342.4 161.8,335.8 160.3,331.2 158.8,329.3 157.3,336.0 155.8,342.4 154.3,341.8 152.8,336.2 151.3,338.2 149.8,335.2 148.3,333.8 146.8,341.6 145.3,346.3 143.8,342.4 142.3,335.7 140.8,336.0 139.3,338.6 137.8,338.8 136.3,313.2 134.8,327.2 133.3,325.2 131.8,334.1 130.3,337.1 128.8,331.3 127.3,323.5 125.8,324.0 124.3,321.5 122.8,315.7 121.3,320.5 119.8,336.0 118.3,346.7 116.8,333.3 115.3,320.8 113.8,310.3 112.3,302.9 110.8,294.0 109.3,285.4 107.8,281.3 106.3,279.1 104.8,284.3 103.3,292.8 101.8,300.9 100.3,308.6 98.8,319.7 97.3,323.8 95.8,325.5 94.3,329.2 92.8,325.7 91.3,323.6 89.8,321.7 88.3,325.4 86.8,344.2 85.3,332.4 83.8,324.1 82.3,330.2 80.8,338.4 79.3,321.7 77.8,313.9 76.3,307.7 74.8,300.3 73.3,293.0 71.8,286.6 70.3,286.0 68.8,287.0 67.3,288.3 65.8,288.6 64.3,288.8 62.8,284.1 61.3,285.3 59.8,287.0 58.3,285.4 56.8,285.2 55.3,287.8 53.8,290.4 52.3,288.7 50.8,295.2 49.3,305.7 47.8,309.2 46.3,305.7 44.8,296.4 43.3,284.2 41.8,268.0" fill="#b0b0b4" fill-opacity="0.55" stroke="none"/>
<path d="M41.8,257.0 L43.9,299.5 L45.8,285.7 L48.3,320.2 L51.0,278.7 L53.6,297.8 L55.5,267.5 L58.8,292.2 L61.0,264.8 L64.5,291.0 L67.0,282.0 L68.9,285.0 L71.2,271.1 L73.2,302.7 L76.5,298.1 L79.4,329.2 L81.3,355.0 L81.8,302.8 L83.7,341.4 L85.9,311.5 L86.8,363.0 L88.5,335.0 L91.3,299.5 L93.7,326.8 L96.7,303.2 L99.6,323.8 L102.9,280.8 L105.3,279.0 L107.3,263.4 L110.4,305.9 L113.1,282.1 L116.1,326.3 L118.3,360.0 L119.0,317.8 L121.3,327.6 L124.2,292.5 L125.3,338.0 L126.8,320.2 L130.3,307.5 L131.3,365.0 L133.3,348.8 L136.2,259.0 L136.4,279.8 L140.0,337.9 L142.3,319.8 L145.3,361.1 L147.9,302.4 L149.9,342.7 L153.1,310.3 L155.3,350.6 L158.7,310.7 L161.3,343.4 L164.7,337.9 L166.3,368.0 L168.1,353.7 L170.6,326.6 L170.8,375.0 L174.0,345.2 L176.1,333.3 L178.3,364.6 L181.0,331.3 L182.3,391.0 L183.2,368.2 L185.8,309.7 L188.3,368.0 L188.6,350.2 L191.7,335.7 L194.6,348.3 L196.5,337.0 L199.7,362.9 L199.7,386.0 L202.9,333.7 L205.4,355.1 L208.4,322.0 L210.3,357.1 L212.4,331.9 L214.3,365.5 L216.3,342.4 L218.8,372.3 L222.2,341.1 L224.2,365.7 L226.7,331.5 L228.7,358.6 L232.3,324.4 L234.9,349.6 L236.9,318.4 L239.2,338.3 L241.3,316.7 L244.8,358.0 L246.9,328.4 L248.7,355.6 L252.3,347.8 L254.8,392.0 L255.3,384.3 L257.8,346.6 L259.8,394.0 L261.0,380.1 L264.2,344.1 L266.4,369.5 L267.4,355.0 L270.0,381.0 L274.7,354.0 L278.3,377.0 L282.5,355.0 L287.3,375.0 L290.5,345.0 L291.6,323.0 L292.6,345.0 L294.9,370.2 L297.1,339.2 L298.3,388.0 L299.3,367.9 L302.7,351.5 L303.8,379.0 L305.4,366.3 L308.6,347.8 L311.6,378.3 L313.2,373.0 L314.3,399.0 L315.2,380.0 L316.2,401.0 L317.2,383.0 L320.7,360.2 L323.9,367.0" fill="none" stroke="#a0a0a8" stroke-opacity="0.35" stroke-width="1.1" stroke-linejoin="round"/>
<path d="M41.8,257.0 L43.9,299.5 L45.8,285.7 L48.3,320.2 L51.0,278.7 L53.6,297.8 L55.5,267.5 L58.8,292.2 L61.0,264.8 L64.5,291.0 L67.0,282.0 L68.9,285.0 L71.2,271.1 L73.2,302.7 L76.5,298.1 L79.4,329.2 L81.3,355.0 L81.8,302.8 L83.7,341.4 L85.9,311.5 L86.8,363.0 L88.5,335.0 L91.3,299.5 L93.7,326.8 L96.7,303.2 L99.6,323.8 L102.9,280.8 L105.3,279.0 L107.3,263.4 L110.4,305.9 L113.1,282.1 L116.1,326.3 L118.3,360.0 L119.0,317.8 L121.3,327.6 L124.2,292.5 L125.3,338.0 L126.8,320.2 L130.3,307.5 L131.3,365.0 L133.3,348.8 L136.2,259.0 L136.4,279.8 L140.0,337.9 L142.3,319.8 L145.3,361.1 L147.9,302.4 L149.9,342.7 L153.1,310.3 L155.3,350.6 L158.7,310.7 L161.3,343.4 L164.7,337.9 L166.3,368.0 L168.1,353.7 L170.6,326.6 L170.8,375.0 L174.0,345.2 L176.1,333.3 L178.3,364.6 L181.0,331.3 L182.3,391.0 L183.2,368.2 L185.8,309.7 L188.3,368.0 L188.6,350.2 L191.7,335.7 L194.6,348.3 L196.5,337.0 L199.7,362.9 L199.7,386.0 L202.9,333.7 L205.4,355.1 L208.4,322.0 L210.3,357.1 L212.4,331.9 L214.3,365.5 L216.3,342.4 L218.8,372.3 L222.2,341.1 L224.2,365.7 L226.7,331.5 L228.7,358.6 L232.3,324.4 L234.9,349.6 L236.9,318.4 L239.2,338.3 L241.3,316.7 L244.8,358.0 L246.9,328.4 L248.7,355.6 L252.3,347.8 L254.8,392.0 L255.3,384.3 L257.8,346.6 L259.8,394.0 L261.0,380.1 L264.2,344.1 L266.4,369.5 L267.4,355.0 L270.0,381.0 L274.7,354.0 L278.3,377.0 L282.5,355.0 L287.3,375.0 L290.5,345.0 L291.6,323.0 L292.6,345.0 L294.9,370.2 L297.1,339.2 L298.3,388.0 L299.3,367.9 L302.7,351.5 L303.8,379.0 L305.4,366.3 L308.6,347.8 L311.6,378.3 L313.2,373.0 L314.3,399.0 L315.2,380.0 L316.2,401.0 L317.2,383.0 L320.7,360.2 L323.9,367.0" fill="none" stroke="#303030" stroke-opacity="0.55" stroke-width="0.5" stroke-dasharray="1.8,1.3"/>
<polygon points="41.6,255.6 194.3,325.7 194.3,335.6 41.6,271.1" fill="#ffff80" fill-opacity="0.36"/>
<line x1="41.6" y1="255.6" x2="194.3" y2="325.7" stroke="#eee660" stroke-width="1.4" stroke-opacity="0.75"/>
<line x1="41.6" y1="271.1" x2="194.3" y2="335.6" stroke="#eee660" stroke-width="1.4" stroke-opacity="0.75"/>
<line x1="269.3" x2="269.3" y1="253.2" y2="465.3" stroke="#333" stroke-width="0.7" stroke-dasharray="0.9,1.1"/>
<line x1="285.0" x2="285.0" y1="374.0" y2="413.5" stroke="#c4b0e8" stroke-width="0.8"/>
<circle cx="285.0" cy="386.4" r="2.5" fill="#dcd4ea" stroke="#a884e0" stroke-width="1.2"/>
<circle cx="285.0" cy="397.1" r="2.5" fill="#dcd4ea" stroke="#a884e0" stroke-width="1.2"/>
<circle cx="285.0" cy="401.3" r="2.5" fill="#dcd4ea" stroke="#a884e0" stroke-width="1.2"/>
</g>
<line x1="41.0" y1="253.2" x2="324.8" y2="253.2" stroke="#2a2a2a" stroke-width="1.2"/>
<line x1="41.0" y1="465.3" x2="324.8" y2="465.3" stroke="#8c8c8c" stroke-width="1.6"/>
<line x1="41.6" y1="253.2" x2="41.6" y2="465.3" stroke="#8c8c8c" stroke-width="1.6"/>
<line x1="324.2" y1="253.2" x2="324.2" y2="465.3" stroke="#8c8c8c" stroke-width="1.6"/>
<path d="M37.6,255.6H41.6M320.2,255.6H324.2M37.6,280.5H41.6M320.2,280.5H324.2M37.6,305.4H41.6M320.2,305.4H324.2M37.6,330.3H41.6M320.2,330.3H324.2M37.6,355.2H41.6M320.2,355.2H324.2M37.6,380.1H41.6M320.2,380.1H324.2M37.6,405.0H41.6M320.2,405.0H324.2M37.6,429.9H41.6M320.2,429.9H324.2M37.6,454.8H41.6M320.2,454.8H324.2M39.4,268.1H41.6M322.0,268.1H324.2M39.4,292.9H41.6M322.0,292.9H324.2M39.4,317.9H41.6M322.0,317.9H324.2M39.4,342.8H41.6M322.0,342.8H324.2M39.4,367.6H41.6M322.0,367.6H324.2M39.4,392.6H41.6M322.0,392.6H324.2M39.4,417.5H41.6M322.0,417.5H324.2M39.4,442.4H41.6M322.0,442.4H324.2M41.6,465.3v4M41.6,253.2v4M85.1,465.3v4M85.1,253.2v4M128.6,465.3v4M128.6,253.2v4M172.1,465.3v4M172.1,253.2v4M215.6,465.3v4M215.6,253.2v4M259.1,465.3v4M259.1,253.2v4M302.6,465.3v4M302.6,253.2v4M63.4,465.3v2.3M63.4,253.2v2M106.8,465.3v2.3M106.8,253.2v2M150.3,465.3v2.3M150.3,253.2v2M193.8,465.3v2.3M193.8,253.2v2M237.3,465.3v2.3M237.3,253.2v2M280.9,465.3v2.3M280.9,253.2v2" stroke="#222" stroke-width="1" fill="none"/>
<text x="35.8" y="258.5" text-anchor="end" class="t">15</text>
<text x="35.8" y="283.4" text-anchor="end" class="t">10</text>
<text x="35.8" y="308.3" text-anchor="end" class="t">5</text>
<text x="35.8" y="333.2" text-anchor="end" class="t">0</text>
<text x="35.8" y="358.1" text-anchor="end" class="t">−5</text>
<text x="35.8" y="383.0" text-anchor="end" class="t">−10</text>
<text x="35.8" y="407.9" text-anchor="end" class="t">−15</text>
<text x="35.8" y="432.8" text-anchor="end" class="t">−20</text>
<text x="35.8" y="457.7" text-anchor="end" class="t">−25</text>
<text x="41.6" y="479.3" text-anchor="middle" class="t">2016</text>
<text x="85.1" y="479.3" text-anchor="middle" class="t">2017</text>
<text x="128.6" y="479.3" text-anchor="middle" class="t">2018</text>
<text x="172.1" y="479.3" text-anchor="middle" class="t">2019</text>
<text x="215.6" y="479.3" text-anchor="middle" class="t">2020</text>
<text x="259.1" y="479.3" text-anchor="middle" class="t">2021</text>
<text x="302.6" y="479.3" text-anchor="middle" class="t">2022</text>
<text x="182.8" y="495.8" text-anchor="middle" class="t" style="font-size:9.8px">Date</text>
<text transform="translate(15,359.3) rotate(-90)" text-anchor="middle" class="yl" textLength="38.5" lengthAdjust="spacingAndGlyphs">Δ<tspan dy="-3" font-size="5.8">14</tspan><tspan dy="3">C (‰)</tspan></text>
<text x="0.6" y="261.9" class="pl">(C)</text>
<text x="326.2" y="342.8" class="sg">3<tspan font-weight="normal" font-family="Liberation Serif" font-size="9.6px">σ</tspan></text>
<text x="326.2" y="353.7" class="sg">2<tspan font-weight="normal" font-family="Liberation Serif" font-size="9.6px">σ</tspan></text>
<text x="326.2" y="367.8" class="sg">1<tspan font-weight="normal" font-family="Liberation Serif" font-size="9.6px">σ</tspan></text>
<text x="326.2" y="381.3" class="sg">2<tspan font-weight="normal" font-family="Liberation Serif" font-size="9.6px">σ</tspan></text>
<text x="326.2" y="392.1" class="sg">3<tspan font-weight="normal" font-family="Liberation Serif" font-size="9.6px">σ</tspan></text>
<circle cx="56.8" cy="430.8" r="2.6" fill="#d4d4d4" stroke="#a884e0" stroke-width="1.2"/>
<text x="71.3" y="434.7" class="lg">Phacelia</text>
<line x1="43.6" x2="69.6" y1="444.0" y2="444.0" stroke="#cccccc" stroke-width="2.8"/>
<text x="74.3" y="447.9" class="lg">Hohepheissenberg ICOS data</text>
<line x1="43.6" x2="69.6" y1="456.6" y2="456.6" stroke="#f8f000" stroke-width="2.8"/>
<text x="71.3" y="460.5" class="lg">Hua et al. (2022) NH Zone1</text>
<clipPath id="cD"><rect x="382.20000000000005" y="253.2" width="282.59999999999997" height="212.10000000000002"/></clipPath>
<g clip-path="url(#cD)">
<rect x="610.2" y="253.2" width="21.19999999999999" height="212.10000000000002" fill="#c4f9d3"/>
<rect x="382.20000000000005" y="334.2" width="282.59999999999997" height="56.4" fill="#ff0000" fill-opacity="0.18"/>
<rect x="382.20000000000005" y="343.6" width="282.59999999999997" height="37.6" fill="#ff0000" fill-opacity="0.33"/>
<rect x="382.20000000000005" y="353.0" width="282.59999999999997" height="18.8" fill="#ff0000" fill-opacity="0.6"/>
<line x1="382.20000000000005" x2="664.8" y1="334.2" y2="334.2" stroke="#d04040" stroke-width="0.8" stroke-dasharray="3,2" stroke-opacity="0.7"/>
<line x1="382.20000000000005" x2="664.8" y1="390.6" y2="390.6" stroke="#d04040" stroke-width="0.8" stroke-dasharray="3,2" stroke-opacity="0.6"/>
<line x1="382.20000000000005" x2="664.8" y1="362.4" y2="362.4" stroke="#d82020" stroke-width="0.8" stroke-dasharray="3.5,2" stroke-opacity="0.8"/>
<polygon points="395.6,273.0 397.6,265.0 400.6,262.0 403.6,264.0 406.6,269.0 409.6,268.0 412.6,275.0 412.6,291.0 409.6,295.0 406.6,293.0 403.6,292.0 400.6,289.0 397.6,285.0 395.6,281.0" fill="#b0b0b4" fill-opacity="0.45" stroke="none"/>
<polygon points="442.6,280.0 445.6,267.0 448.6,263.0 451.6,275.0 454.6,287.0 454.6,303.0 451.6,301.0 448.6,297.0 445.6,295.0 442.6,293.0" fill="#b0b0b4" fill-opacity="0.45" stroke="none"/>
<polygon points="529.6,337.0 533.6,334.0 537.6,337.0 537.6,351.0 533.6,352.0 529.6,349.0" fill="#b0b0b4" fill-opacity="0.45" stroke="none"/>
<polygon points="572.6,325.0 576.6,322.0 580.6,317.0 581.6,345.0 576.6,349.0 572.6,347.0" fill="#b0b0b4" fill-opacity="0.45" stroke="none"/>
<polygon points="649.6,363.0 653.6,373.0 656.6,380.0 659.6,370.0 659.6,383.0 656.6,400.0 653.6,395.0 649.6,377.0" fill="#b0b0b4" fill-opacity="0.45" stroke="none"/>
<polygon points="382.4,259.5 383.9,267.3 385.4,279.1 386.9,289.5 388.4,297.4 389.9,290.7 391.4,283.3 392.9,280.3 394.4,278.2 395.9,275.7 397.4,272.2 398.9,272.5 400.4,275.2 401.9,271.9 403.4,272.1 404.9,276.8 406.4,278.0 407.9,276.4 409.4,275.5 410.9,275.8 412.4,278.4 413.9,285.6 415.4,292.7 416.9,300.3 418.4,303.8 419.9,309.3 421.4,313.9 422.9,312.4 424.4,308.4 425.9,311.3 427.4,319.6 428.9,305.4 430.4,304.9 431.9,310.7 433.4,314.1 434.9,314.1 436.4,311.2 437.9,308.6 439.4,303.9 440.9,296.2 442.4,290.1 443.9,282.8 445.4,273.2 446.9,264.7 448.4,268.2 449.9,273.1 451.4,277.9 452.9,288.2 454.4,296.5 455.9,300.6 457.4,315.2 458.9,324.2 460.4,321.7 461.9,305.2 463.4,299.0 464.9,306.7 466.4,306.1 467.9,309.1 469.4,312.8 470.9,318.9 472.4,313.0 473.9,309.6 475.4,307.3 476.9,272.4 478.4,323.1 479.9,325.5 481.4,327.8 482.9,323.2 484.4,323.2 485.9,322.0 487.4,321.6 488.9,316.5 490.4,318.5 491.9,320.3 493.4,323.3 494.9,327.2 496.4,330.6 497.9,324.7 499.4,316.5 500.9,315.8 502.4,320.9 503.9,330.9 505.4,336.3 506.9,334.2 508.4,328.0 509.9,322.9 511.4,329.5 512.9,339.3 514.4,341.0 515.9,340.5 517.4,342.1 518.9,338.8 520.4,339.4 521.9,344.2 523.4,341.6 524.9,322.9 526.4,324.3 527.9,337.9 529.4,345.3 530.9,338.5 532.4,336.3 533.9,335.7 535.4,332.9 536.9,332.4 538.4,332.8 539.9,345.7 541.4,338.0 542.9,337.4 544.4,339.5 545.9,335.8 547.4,330.9 548.9,334.2 550.4,340.1 551.9,342.3 553.4,340.5 554.9,345.7 556.4,347.6 557.9,346.8 559.4,349.6 560.9,349.0 562.4,345.8 563.9,339.4 565.4,336.1 566.9,334.0 568.4,332.0 569.9,333.4 571.4,336.6 572.9,331.4 574.4,331.3 575.9,330.6 577.4,329.1 578.9,324.9 580.4,321.3 581.9,327.6 583.4,343.2 584.9,344.3 586.4,343.0 587.9,336.0 589.4,334.6 590.9,339.6 592.4,342.3 593.9,339.6 595.4,341.9 596.9,351.9 598.4,354.9 599.9,356.9 601.4,353.7 602.9,349.3 604.4,350.3 605.9,351.6 607.4,354.8 608.9,359.8 610.4,364.3 611.9,366.5 613.4,364.3 614.9,364.5 616.4,362.1 617.9,362.0 619.4,365.2 620.9,363.4 622.4,361.1 623.9,359.0 625.4,359.6 626.9,353.3 628.4,348.4 629.9,342.2 631.4,338.4 632.9,332.8 634.4,339.2 635.9,346.5 637.4,351.1 638.9,349.6 640.4,347.9 641.9,343.8 643.4,355.1 644.9,358.3 646.4,356.4 647.9,355.5 649.4,355.5 650.9,356.5 652.4,361.5 653.9,363.2 655.4,369.3 656.9,374.7 658.4,371.5 659.9,365.0 661.4,361.8 662.9,363.2 664.4,363.0 664.4,368.3 662.9,368.8 661.4,371.0 659.9,374.3 658.4,381.3 656.9,389.4 655.4,385.4 653.9,381.5 652.4,378.9 650.9,370.4 649.4,367.5 647.9,368.5 646.4,366.6 644.9,367.5 643.4,364.6 641.9,352.5 640.4,358.7 638.9,369.2 637.4,373.4 635.9,364.3 634.4,353.9 632.9,346.5 631.4,348.0 629.9,351.8 628.4,357.1 626.9,361.3 625.4,368.0 623.9,369.1 622.4,370.9 620.9,371.8 619.4,372.0 617.9,370.4 616.4,372.5 614.9,373.8 613.4,376.3 611.9,375.9 610.4,379.5 608.9,375.1 607.4,367.7 605.9,365.7 604.4,364.7 602.9,365.4 601.4,367.8 599.9,374.6 598.4,371.6 596.9,364.1 595.4,362.4 593.9,363.6 592.4,358.8 590.9,351.9 589.4,350.6 587.9,349.4 586.4,352.2 584.9,354.1 583.4,352.6 581.9,341.3 580.4,337.5 578.9,337.1 577.4,343.3 575.9,343.3 574.4,342.6 572.9,341.3 571.4,348.0 569.9,351.5 568.4,351.0 566.9,352.0 565.4,352.8 563.9,353.0 562.4,359.8 560.9,361.8 559.4,361.3 557.9,360.0 556.4,359.5 554.9,357.2 553.4,356.0 551.9,356.2 550.4,353.3 548.9,346.1 547.4,341.5 545.9,346.1 544.4,347.7 542.9,346.8 541.4,350.0 539.9,366.1 538.4,352.1 536.9,344.5 535.4,342.8 533.9,343.6 532.4,342.8 530.9,345.4 529.4,354.6 527.9,355.4 526.4,342.8 524.9,337.6 523.4,364.2 521.9,363.9 520.4,358.2 518.9,358.2 517.4,355.6 515.9,352.5 514.4,350.7 512.9,353.4 511.4,350.9 509.9,341.3 508.4,340.7 506.9,350.8 505.4,347.3 503.9,342.4 502.4,335.8 500.9,331.2 499.4,329.3 497.9,336.0 496.4,342.4 494.9,341.8 493.4,336.2 491.9,338.2 490.4,335.2 488.9,333.8 487.4,341.6 485.9,346.3 484.4,342.4 482.9,335.7 481.4,336.0 479.9,338.6 478.4,338.8 476.9,313.2 475.4,327.2 473.9,325.2 472.4,334.1 470.9,337.1 469.4,331.3 467.9,323.5 466.4,324.0 464.9,321.5 463.4,315.7 461.9,320.5 460.4,336.0 458.9,346.7 457.4,333.3 455.9,320.8 454.4,310.3 452.9,302.9 451.4,294.0 449.9,285.4 448.4,281.3 446.9,279.1 445.4,284.3 443.9,292.8 442.4,300.9 440.9,308.6 439.4,319.7 437.9,323.8 436.4,325.5 434.9,329.2 433.4,325.7 431.9,323.6 430.4,321.7 428.9,325.4 427.4,344.2 425.9,332.4 424.4,324.1 422.9,330.2 421.4,338.4 419.9,321.7 418.4,313.9 416.9,307.7 415.4,300.3 413.9,293.0 412.4,286.6 410.9,286.0 409.4,287.0 407.9,288.3 406.4,288.6 404.9,288.8 403.4,284.1 401.9,285.3 400.4,287.0 398.9,285.4 397.4,285.2 395.9,287.8 394.4,290.4 392.9,288.7 391.4,295.2 389.9,305.7 388.4,309.2 386.9,305.7 385.4,296.4 383.9,284.2 382.4,268.0" fill="#b0b0b4" fill-opacity="0.55" stroke="none"/>
<path d="M382.4,257.0 L384.5,299.5 L386.4,285.7 L388.9,320.2 L391.6,278.7 L394.2,297.8 L396.1,267.5 L399.4,292.2 L401.6,264.8 L405.1,291.0 L407.6,282.0 L409.5,285.0 L411.8,271.1 L413.8,302.7 L417.1,298.1 L420.0,329.2 L421.9,355.0 L422.4,302.8 L424.3,341.4 L426.5,311.5 L427.4,363.0 L429.1,335.0 L431.9,299.5 L434.3,326.8 L437.3,303.2 L440.2,323.8 L443.5,280.8 L445.9,279.0 L447.9,263.4 L451.0,305.9 L453.7,282.1 L456.7,326.3 L458.9,360.0 L459.6,317.8 L461.9,327.6 L464.8,292.5 L465.9,338.0 L467.4,320.2 L470.9,307.5 L471.9,365.0 L473.9,348.8 L476.8,259.0 L477.0,279.8 L480.6,337.9 L482.9,319.8 L485.9,361.1 L488.5,302.4 L490.5,342.7 L493.7,310.3 L495.9,350.6 L499.3,310.7 L501.9,343.4 L505.3,337.9 L506.9,368.0 L508.7,353.7 L511.2,326.6 L511.4,375.0 L514.6,345.2 L516.7,333.3 L518.9,364.6 L521.6,331.3 L522.9,391.0 L523.8,368.2 L526.4,309.7 L528.9,368.0 L529.2,350.2 L532.3,335.7 L535.2,348.3 L537.1,337.0 L540.3,362.9 L540.3,386.0 L543.5,333.7 L546.0,355.1 L549.0,322.0 L550.9,357.1 L553.0,331.9 L554.9,365.5 L556.9,342.4 L559.4,372.3 L562.8,341.1 L564.8,365.7 L567.3,331.5 L569.3,358.6 L572.9,324.4 L575.5,349.6 L577.5,318.4 L579.8,338.3 L581.9,316.7 L585.4,358.0 L587.5,328.4 L589.3,355.6 L592.9,347.8 L595.4,392.0 L595.9,384.3 L598.4,346.6 L600.4,394.0 L601.6,380.1 L604.8,344.1 L607.0,369.5 L608.0,355.0 L610.6,381.0 L615.3,354.0 L618.9,377.0 L623.1,355.0 L627.9,375.0 L631.1,345.0 L632.2,323.0 L633.2,345.0 L635.5,370.2 L637.7,339.2 L638.9,388.0 L639.9,367.9 L643.3,351.5 L644.4,379.0 L646.0,366.3 L649.2,347.8 L652.2,378.3 L653.8,373.0 L654.9,399.0 L655.8,380.0 L656.8,401.0 L657.8,383.0 L661.3,360.2 L664.5,367.0" fill="none" stroke="#a0a0a8" stroke-opacity="0.35" stroke-width="1.1" stroke-linejoin="round"/>
<path d="M382.4,257.0 L384.5,299.5 L386.4,285.7 L388.9,320.2 L391.6,278.7 L394.2,297.8 L396.1,267.5 L399.4,292.2 L401.6,264.8 L405.1,291.0 L407.6,282.0 L409.5,285.0 L411.8,271.1 L413.8,302.7 L417.1,298.1 L420.0,329.2 L421.9,355.0 L422.4,302.8 L424.3,341.4 L426.5,311.5 L427.4,363.0 L429.1,335.0 L431.9,299.5 L434.3,326.8 L437.3,303.2 L440.2,323.8 L443.5,280.8 L445.9,279.0 L447.9,263.4 L451.0,305.9 L453.7,282.1 L456.7,326.3 L458.9,360.0 L459.6,317.8 L461.9,327.6 L464.8,292.5 L465.9,338.0 L467.4,320.2 L470.9,307.5 L471.9,365.0 L473.9,348.8 L476.8,259.0 L477.0,279.8 L480.6,337.9 L482.9,319.8 L485.9,361.1 L488.5,302.4 L490.5,342.7 L493.7,310.3 L495.9,350.6 L499.3,310.7 L501.9,343.4 L505.3,337.9 L506.9,368.0 L508.7,353.7 L511.2,326.6 L511.4,375.0 L514.6,345.2 L516.7,333.3 L518.9,364.6 L521.6,331.3 L522.9,391.0 L523.8,368.2 L526.4,309.7 L528.9,368.0 L529.2,350.2 L532.3,335.7 L535.2,348.3 L537.1,337.0 L540.3,362.9 L540.3,386.0 L543.5,333.7 L546.0,355.1 L549.0,322.0 L550.9,357.1 L553.0,331.9 L554.9,365.5 L556.9,342.4 L559.4,372.3 L562.8,341.1 L564.8,365.7 L567.3,331.5 L569.3,358.6 L572.9,324.4 L575.5,349.6 L577.5,318.4 L579.8,338.3 L581.9,316.7 L585.4,358.0 L587.5,328.4 L589.3,355.6 L592.9,347.8 L595.4,392.0 L595.9,384.3 L598.4,346.6 L600.4,394.0 L601.6,380.1 L604.8,344.1 L607.0,369.5 L608.0,355.0 L610.6,381.0 L615.3,354.0 L618.9,377.0 L623.1,355.0 L627.9,375.0 L631.1,345.0 L632.2,323.0 L633.2,345.0 L635.5,370.2 L637.7,339.2 L638.9,388.0 L639.9,367.9 L643.3,351.5 L644.4,379.0 L646.0,366.3 L649.2,347.8 L652.2,378.3 L653.8,373.0 L654.9,399.0 L655.8,380.0 L656.8,401.0 L657.8,383.0 L661.3,360.2 L664.5,367.0" fill="none" stroke="#303030" stroke-opacity="0.55" stroke-width="0.5" stroke-dasharray="1.8,1.3"/>
<polygon points="382.20000000000005,255.6 534.9000000000001,325.7 534.9000000000001,335.6 382.20000000000005,271.1" fill="#ffff80" fill-opacity="0.36"/>
<line x1="382.20000000000005" y1="255.6" x2="534.9000000000001" y2="325.7" stroke="#eee660" stroke-width="1.4" stroke-opacity="0.75"/>
<line x1="382.20000000000005" y1="271.1" x2="534.9000000000001" y2="335.6" stroke="#eee660" stroke-width="1.4" stroke-opacity="0.75"/>
<line x1="610.2" x2="610.2" y1="253.2" y2="465.3" stroke="#a0a8a0" stroke-width="0.7" stroke-dasharray="0.9,1.1"/>
<line x1="631.4000000000001" x2="631.4000000000001" y1="253.2" y2="465.3" stroke="#a0a8a0" stroke-width="0.7" stroke-dasharray="0.9,1.1"/>
<line x1="626.0" x2="626.0" y1="391.6" y2="417.3" stroke="#eaa898" stroke-width="0.8"/>
<line x1="624.4" x2="627.6" y1="339.0" y2="339.0" stroke="#777" stroke-width="0.8"/>
<line x1="624.4" x2="627.6" y1="417.3" y2="417.3" stroke="#e8a090" stroke-width="0.8"/>
<circle cx="626.0" cy="355.8" r="2.5" fill="#e6e6e6" stroke="#505050" stroke-width="1.3"/>
<circle cx="626.0" cy="403.8" r="2.5" fill="#eadada" stroke="#d84848" stroke-width="1.3"/>
</g>
<line x1="381.6" y1="253.2" x2="665.4000000000001" y2="253.2" stroke="#2a2a2a" stroke-width="1.2"/>
<line x1="381.6" y1="465.3" x2="665.4000000000001" y2="465.3" stroke="#8c8c8c" stroke-width="1.6"/>
<line x1="382.20000000000005" y1="253.2" x2="382.20000000000005" y2="465.3" stroke="#2a2a2a" stroke-width="1.2"/>
<line x1="664.8" y1="253.2" x2="664.8" y2="465.3" stroke="#2a2a2a" stroke-width="1.2"/>
<path d="M378.20000000000005,255.6H382.20000000000005M660.8,255.6H664.8M378.20000000000005,280.5H382.20000000000005M660.8,280.5H664.8M378.20000000000005,305.4H382.20000000000005M660.8,305.4H664.8M378.20000000000005,330.3H382.20000000000005M660.8,330.3H664.8M378.20000000000005,355.2H382.20000000000005M660.8,355.2H664.8M378.20000000000005,380.1H382.20000000000005M660.8,380.1H664.8M378.20000000000005,405.0H382.20000000000005M660.8,405.0H664.8M378.20000000000005,429.9H382.20000000000005M660.8,429.9H664.8M378.20000000000005,454.8H382.20000000000005M660.8,454.8H664.8M380.00000000000006,268.1H382.20000000000005M662.5999999999999,268.1H664.8M380.00000000000006,292.9H382.20000000000005M662.5999999999999,292.9H664.8M380.00000000000006,317.9H382.20000000000005M662.5999999999999,317.9H664.8M380.00000000000006,342.8H382.20000000000005M662.5999999999999,342.8H664.8M380.00000000000006,367.6H382.20000000000005M662.5999999999999,367.6H664.8M380.00000000000006,392.6H382.20000000000005M662.5999999999999,392.6H664.8M380.00000000000006,417.5H382.20000000000005M662.5999999999999,417.5H664.8M380.00000000000006,442.4H382.20000000000005M662.5999999999999,442.4H664.8M382.2,465.3v4M382.2,253.2v4M425.7,465.3v4M425.7,253.2v4M469.2,465.3v4M469.2,253.2v4M512.7,465.3v4M512.7,253.2v4M556.2,465.3v4M556.2,253.2v4M599.7,465.3v4M599.7,253.2v4M643.2,465.3v4M643.2,253.2v4M404.0,465.3v2.3M404.0,253.2v2M447.5,465.3v2.3M447.5,253.2v2M491.0,465.3v2.3M491.0,253.2v2M534.5,465.3v2.3M534.5,253.2v2M578.0,465.3v2.3M578.0,253.2v2M621.5,465.3v2.3M621.5,253.2v2" stroke="#222" stroke-width="1" fill="none"/>
<text x="376.40000000000003" y="258.5" text-anchor="end" class="t">15</text>
<text x="376.40000000000003" y="283.4" text-anchor="end" class="t">10</text>
<text x="376.40000000000003" y="308.3" text-anchor="end" class="t">5</text>
<text x="376.40000000000003" y="333.2" text-anchor="end" class="t">0</text>
<text x="376.40000000000003" y="358.1" text-anchor="end" class="t">−5</text>
<text x="376.40000000000003" y="383.0" text-anchor="end" class="t">−10</text>
<text x="376.40000000000003" y="407.9" text-anchor="end" class="t">−15</text>
<text x="376.40000000000003" y="432.8" text-anchor="end" class="t">−20</text>
<text x="376.40000000000003" y="457.7" text-anchor="end" class="t">−25</text>
<text x="382.2" y="479.3" text-anchor="middle" class="t">2016</text>
<text x="425.7" y="479.3" text-anchor="middle" class="t">2017</text>
<text x="469.2" y="479.3" text-anchor="middle" class="t">2018</text>
<text x="512.7" y="479.3" text-anchor="middle" class="t">2019</text>
<text x="556.2" y="479.3" text-anchor="middle" class="t">2020</text>
<text x="599.7" y="479.3" text-anchor="middle" class="t">2021</text>
<text x="643.2" y="479.3" text-anchor="middle" class="t">2022</text>
<text x="523.4000000000001" y="495.8" text-anchor="middle" class="t" style="font-size:9.8px">Date</text>
<text transform="translate(355.6,359.3) rotate(-90)" text-anchor="middle" class="yl" textLength="38.5" lengthAdjust="spacingAndGlyphs">Δ<tspan dy="-3" font-size="5.8">14</tspan><tspan dy="3">C (‰)</tspan></text>
<text x="337.1" y="261.9" class="pl">(D)</text>
<text x="666.8" y="340.1" class="sg">3<tspan font-weight="normal" font-family="Liberation Serif" font-size="9.6px">σ</tspan></text>
<text x="666.8" y="351.0" class="sg">2<tspan font-weight="normal" font-family="Liberation Serif" font-size="9.6px">σ</tspan></text>
<text x="666.8" y="365.0" class="sg">1<tspan font-weight="normal" font-family="Liberation Serif" font-size="9.6px">σ</tspan></text>
<text x="666.8" y="378.2" class="sg">2<tspan font-weight="normal" font-family="Liberation Serif" font-size="9.6px">σ</tspan></text>
<text x="666.8" y="388.3" class="sg">3<tspan font-weight="normal" font-family="Liberation Serif" font-size="9.6px">σ</tspan></text>
<circle cx="397.40000000000003" cy="417.4" r="2.6" fill="#d4d4d4" stroke="#d84848" stroke-width="1.2"/>
<text x="411.90000000000003" y="421.3" class="lg">Apple</text>
<circle cx="397.40000000000003" cy="430.0" r="2.6" fill="#d4d4d4" stroke="#555" stroke-width="1.2"/>
<text x="411.90000000000003" y="433.9" class="lg">Linden</text>
<line x1="384.20000000000005" x2="410.20000000000005" y1="443.2" y2="443.2" stroke="#cccccc" stroke-width="2.8"/>
<text x="414.90000000000003" y="447.1" class="lg">Hohepheissenberg ICOS data</text>
<line x1="384.20000000000005" x2="410.20000000000005" y1="456.1" y2="456.1" stroke="#f8f000" stroke-width="2.8"/>
<text x="411.90000000000003" y="460.0" class="lg">Hua et al. (2022) NH Zone1</text>
</svg></body></html>
